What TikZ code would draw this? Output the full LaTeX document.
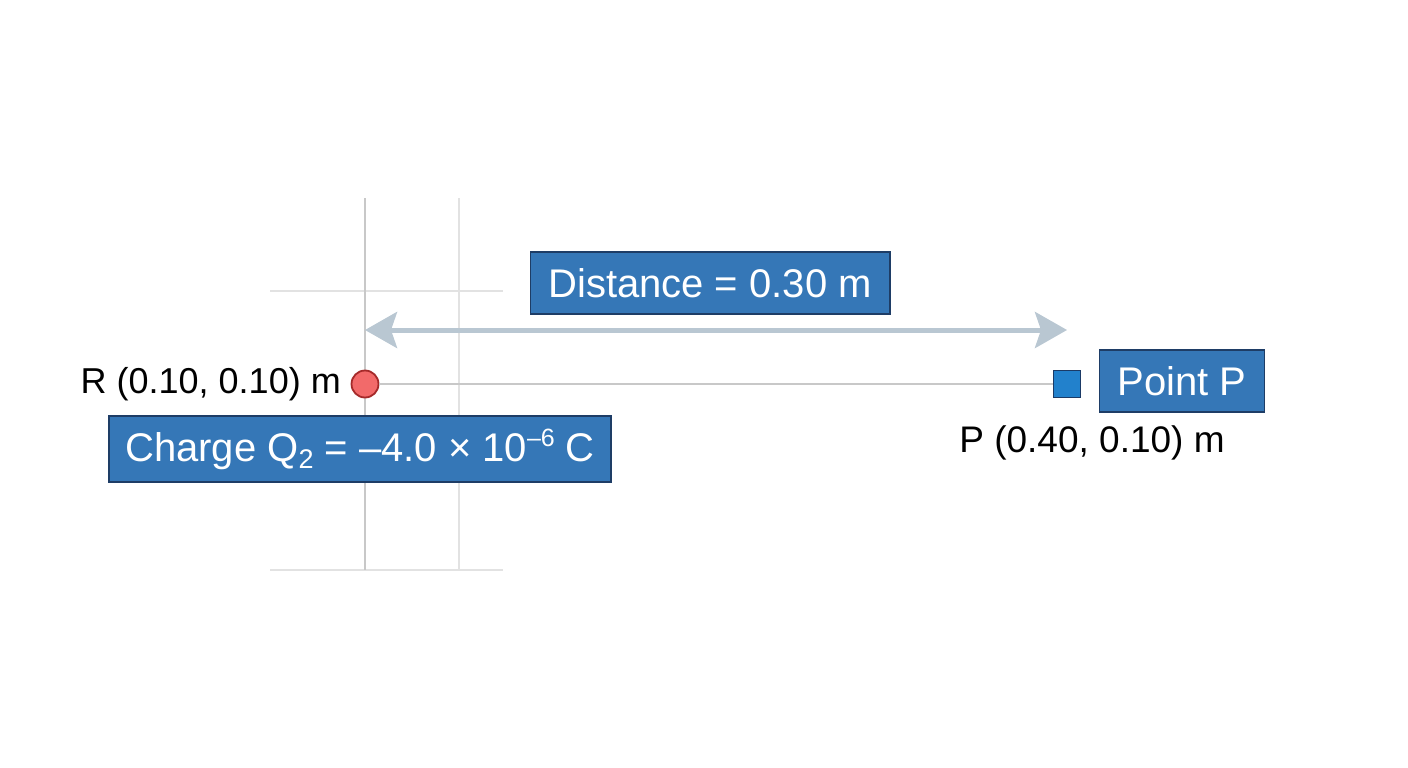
\documentclass[tikz,border=0pt]{standalone}
\usepackage{fontspec}
\setmainfont{Liberation Sans}
\usetikzlibrary{arrows.meta}
\definecolor{boxblue}{HTML}{3577B7}
\definecolor{boxedge}{HTML}{1E3D66}
\definecolor{arrowgray}{HTML}{B9C7D2}
\definecolor{redfill}{HTML}{F26A6A}
\definecolor{rededge}{HTML}{A52A2A}
\definecolor{sqfill}{HTML}{2281CC}
\definecolor{sqedge}{HTML}{1B3A66}
\definecolor{gridmid}{HTML}{C8C8C8}
\definecolor{gridlight}{HTML}{E2E2E2}
\newcommand{\smallsub}[1]{\raisebox{-7pt}{\fontsize{27}{30}\selectfont #1}}
\newcommand{\smallsup}[1]{\raisebox{15pt}{\fontsize{25}{30}\selectfont #1}}
\tikzset{
  labelbox/.style={draw=boxedge, line width=1.5pt, fill=boxblue, text=white,
    font=\fontsize{40}{48}\selectfont, inner xsep=18pt, minimum height=62pt, inner ysep=0pt},
  coordlabel/.style={text=black, font=\fontsize{36}{43}\selectfont, inner sep=0pt},
  gridmaj/.style={draw=gridmid, line width=1.6pt},
  gridmin/.style={draw=gridlight, line width=1.4pt},
}
\begin{document}
\begin{tikzpicture}[x=1pt,y=-1pt]
\useasboundingbox (0,0) rectangle (1408,768);
% grid
\draw[gridmin] (459,198) -- (459,570);
\draw[gridmin] (270,291) -- (503,291);
\draw[gridmin] (270,570) -- (503,570);
\draw[gridmaj] (365,198) -- (365,570);
% points
\node[circle, draw=rededge, fill=redfill, line width=1.8pt, minimum size=27pt, inner sep=0pt] (R) at (365,384) {};
\node[rectangle, draw=sqedge, fill=sqfill, line width=1.8pt, minimum size=27pt, inner sep=0pt] (P) at (1067,384) {};
\draw[draw=gridmid, line width=1.8pt] (R) -- (P);
% distance arrow
\coordinate (aL) at (365,330);
\coordinate (aR) at (1067,330);
\draw[arrowgray, line width=5pt, {Stealth[length=32pt,width=36pt,inset=6pt]}-{Stealth[length=32pt,width=36pt,inset=6pt]}] (aL) -- (aR);
% labels
\node[labelbox] (dist) at (710,283) {Distance = 0.30 m};
\node[labelbox, minimum width=502pt, minimum height=66pt, inner xsep=14pt] (charge) at (360,449) {Charge Q\smallsub{2} = –4.0 × 10\smallsup{–6} C};
\node[labelbox] (pointp) at (1182,381) {Point P};
\node[coordlabel, anchor=east] (Rlab) at (341,384) {R (0.10, 0.10) m};
\node[coordlabel, font=\fontsize{37}{44}\selectfont, anchor=center] (Plab) at (1092,443) {P (0.40, 0.10) m};
\end{tikzpicture}
\end{document}
